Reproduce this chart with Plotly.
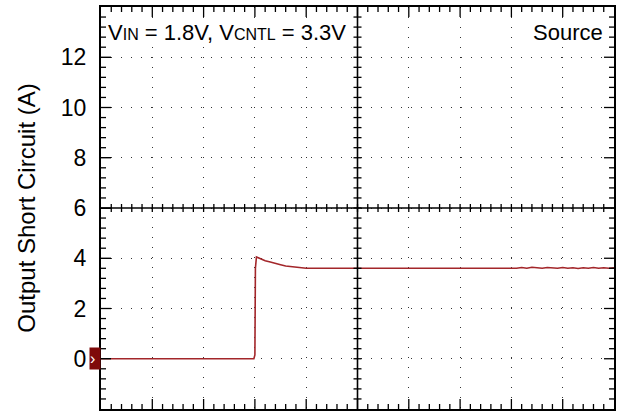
import numpy as np
import plotly.graph_objects as go

# Data (x in screen divisions, y in amperes)
time_div = [0.0, 0.8, 0.82, 0.84, 2.98, 3.0, 3.01, 3.03, 3.06, 3.1, 3.2, 3.3, 3.4, 3.5,
            3.6, 3.7, 3.8, 3.9, 4.0, 5.0, 6.0, 6.6, 6.62, 7.0, 7.7, 7.8, 7.9, 8.0,
            8.1, 8.2, 8.3, 8.4, 8.5, 8.6, 8.7, 8.8, 8.9, 9.0, 9.1, 9.2, 9.3, 9.4,
            9.5, 9.6, 9.7, 9.8, 9.9, 10.0]
current_a = [0.0, 0.0, 0.03, 0.0, 0.0, 0.15, 3.6, 4.05, 4.02, 3.98, 3.9, 3.85, 3.78, 3.74,
             3.69, 3.66, 3.63, 3.61, 3.6, 3.6, 3.6, 3.6, 3.62, 3.6, 3.6, 3.62, 3.59, 3.62,
             3.6, 3.63, 3.6, 3.64, 3.62, 3.6, 3.63, 3.61, 3.6, 3.63, 3.6, 3.62, 3.59, 3.62,
             3.6, 3.63, 3.6, 3.62, 3.6, 3.62]

y_ticks = [0, 2, 4, 6, 8, 10, 12]
x_range = [0, 10]
y_range = [-2, 14]

FONT = "Arial, Liberation Sans, sans-serif"
RED = "#a3262a"

fig = go.Figure()
fig.add_trace(go.Scatter(x=time_div, y=current_a, mode="lines",
                         line=dict(color=RED, width=1.6), showlegend=False,
                         hoverinfo="skip"))

grid = dict(showgrid=True, gridcolor="#333333", gridwidth=1, griddash="1px,9px")

# ---- oscilloscope graticule decoration (border ticks + centre cross) ----
x_mid = (x_range[0] + x_range[1]) / 2
y_mid = (y_range[0] + y_range[1]) / 2
x_div, y_div = 1, 2          # major division sizes
x_sub, y_sub = x_div / 5, y_div / 5
tick_line = dict(color="black", width=1.3)
shapes = [
    dict(type="line", xref="x", yref="paper", x0=x_mid, x1=x_mid, y0=0, y1=1,
         line=dict(color="black", width=1.6)),
    dict(type="line", xref="paper", yref="y", x0=0, x1=1, y0=y_mid, y1=y_mid,
         line=dict(color="black", width=1.6)),
]
n_x = int(round((x_range[1] - x_range[0]) / x_sub))
for k in range(1, n_x):
    t = x_range[0] + k * x_sub
    ln = 10 if k % 5 == 0 else 5
    shapes += [
        dict(type="line", xref="x", x0=t, x1=t, yref="paper", ysizemode="pixel",
             yanchor=1, y0=0, y1=-ln, line=tick_line),
        dict(type="line", xref="x", x0=t, x1=t, yref="paper", ysizemode="pixel",
             yanchor=0, y0=0, y1=ln, line=tick_line),
        dict(type="line", xref="x", x0=t, x1=t, yref="y", ysizemode="pixel",
             yanchor=y_mid, y0=-4, y1=4, line=tick_line),
    ]
n_y = int(round((y_range[1] - y_range[0]) / y_sub))
for k in range(1, n_y):
    v = y_range[0] + k * y_sub
    ln = 10 if k % 5 == 0 else 5
    shapes += [
        dict(type="line", yref="y", y0=v, y1=v, xref="paper", xsizemode="pixel",
             xanchor=0, x0=0, x1=ln, line=tick_line),
        dict(type="line", yref="y", y0=v, y1=v, xref="paper", xsizemode="pixel",
             xanchor=1, x0=0, x1=-ln, line=tick_line),
        dict(type="line", yref="y", y0=v, y1=v, xref="x", xsizemode="pixel",
             xanchor=x_mid, x0=-4, x1=4, line=tick_line),
    ]

fig.update_layout(
    width=625, height=414,
    margin=dict(l=101, r=11, t=7, b=5),
    paper_bgcolor="white", plot_bgcolor="white",
    font=dict(family=FONT, color="black"),
    xaxis=dict(range=x_range, dtick=x_div, showticklabels=False, zeroline=False,
               automargin=False, showline=True, linecolor="black", linewidth=2,
               mirror=True, ticks="", **grid),
    yaxis=dict(range=y_range, tickvals=y_ticks, zeroline=False, automargin=False,
               showline=True, linecolor="black", linewidth=2, mirror=True,
               ticks="inside", ticklen=10, tickwidth=1.3, tickcolor="black",
               ticklabelstandoff=8, tickfont=dict(size=23, family=FONT),
               title=dict(text="Output Short Circuit (A)", font=dict(size=24, family=FONT),
                          standoff=18),
               **grid),
    shapes=shapes,
    annotations=[
        dict(xref="paper", yref="paper", x=0.012, y=0.97, xanchor="left", yanchor="top",
             text="V<span style='font-size:16px'>IN</span> = 1.8V, V<span style='font-size:16px'>CNTL</span> = 3.3V",
             showarrow=False, font=dict(size=22, family=FONT), bgcolor="white", borderpad=0),
        dict(xref="paper", yref="paper", x=0.98, y=0.97, xanchor="right", yanchor="top",
             text="Source", showarrow=False, font=dict(size=22, family=FONT),
             bgcolor="white", borderpad=0),
        dict(xref="paper", yref="y", x=0, y=0, xanchor="right", yanchor="middle",
             text="›", showarrow=False, font=dict(size=16, color="white", family=FONT),
             bgcolor="#7f0a0a", width=10, height=21, borderpad=0, align="left"),
    ],
)

fig.write_html("out.html", config={"displayModeBar": False},
               post_script="document.body.style.margin='0';document.body.style.padding='0';"
                           "document.body.style.overflow='hidden';")
